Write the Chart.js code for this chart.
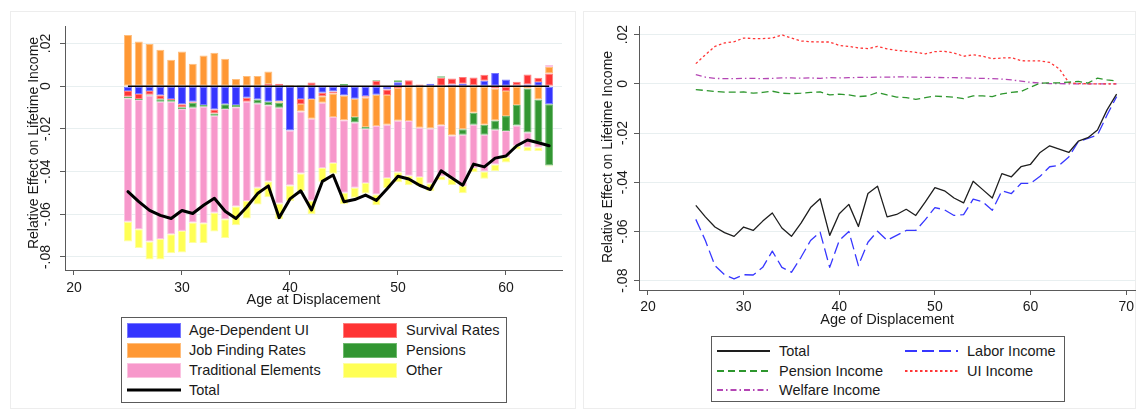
<!DOCTYPE html>
<html>
<head>
<meta charset="utf-8">
<title>Decomposition of lifetime income losses by age at displacement</title>
<script src="https://cdn.jsdelivr.net/npm/chart.js@4.4.1/dist/chart.umd.min.js"></script>
<style>
  html, body { margin: 0; padding: 0; background: #ffffff; }
  body { width: 1138px; height: 415px; position: relative; overflow: hidden;
         font-family: "Liberation Sans", Arial, sans-serif; color: #1a1a1a; }
  .frame { position: absolute; border: 1px solid #ededed; box-sizing: border-box; }
  .wrap { position: absolute; top: 0; }
  .legend { position: absolute; border: 1px solid #5a5a5a; box-sizing: border-box; background: #fff; }
  .key { position: absolute; line-height: 0; }
  .item { position: absolute; font-size: 14.5px; line-height: 18px; white-space: nowrap; color: #1a1a1a; }
</style>
</head>
<body>
<div class="frame" style="left:10px;top:11px;width:566px;height:398px"></div>
<div class="frame" style="left:583px;top:11px;width:553px;height:398px"></div>
<div class="wrap" style="left:0;width:578px;height:415px"><canvas id="decomp" width="578" height="415"></canvas></div>
<div class="wrap" style="left:578px;width:560px;height:415px"><canvas id="sources" width="560" height="415"></canvas></div>
<div id="legendDecomp" class="legend" style="left:121px;top:317px;width:386px;height:86px"></div>
<div id="legendSources" class="legend" style="left:711px;top:336px;width:354px;height:66px"></div>

<script>
// ---- Ages at displacement ----
const barAges = [25, 26, 27, 28, 29, 30, 31, 32, 33, 34, 35, 36, 37, 38, 39, 40, 41, 42, 43, 44,
                 45, 46, 47, 48, 49, 50, 51, 52, 53, 54, 55, 56, 57, 58, 59, 60, 61, 62, 63, 64];
const sourceAges = [25, 26, 27, 28, 29, 30, 31, 32, 33, 34, 35, 36, 37, 38, 39, 40, 41, 42, 43, 44,
                    45, 46, 47, 48, 49, 50, 51, 52, 53, 54, 55, 56, 57, 58, 59, 60, 61, 62, 63, 64,
                    65, 66, 67, 68, 69];

// ---- Decomposition of the total effect (ages 25-64) ----
const ageDependentUI = [-0.0023, -0.0037, -0.0023, -0.0042, -0.0060, -0.0085, -0.0073, -0.0088, -0.0109, -0.0084,
                        -0.0088, -0.0054, -0.0062, -0.0073, -0.0070, -0.0208, -0.0060, -0.0060, -0.0031, -0.0025,
                        -0.0043, -0.0059, -0.0047, -0.0040, -0.0016, 0.0019, 0.0000, 0.0000, 0.0012, 0.0000,
                        0.0008, 0.0012, 0.0005, 0.0025, 0.0062, 0.0031, 0.0005, 0.0008, 0.0020, -0.0084];
const survivalRates = [-0.0026, -0.0023, -0.0017, -0.0019, -0.0005, -0.0014, -0.0005, 0.0000, -0.0019, 0.0000,
                       0.0000, -0.0019, 0.0000, 0.0010, 0.0012, 0.0000, -0.0023, 0.0017, -0.0016, -0.0009,
                       0.0000, 0.0000, -0.0006, 0.0026, -0.0025, -0.0009, 0.0028, 0.0008, 0.0000, 0.0039,
                       0.0028, 0.0031, 0.0036, 0.0029, -0.0011, -0.0022, 0.0016, 0.0047, 0.0019, 0.0059];
const jobFindingRates = [0.0240, 0.0209, 0.0198, 0.0171, 0.0124, 0.0163, 0.0105, 0.0144, 0.0157, 0.0129,
                         0.0034, 0.0048, 0.0048, 0.0059, -0.0008, 0.0006, -0.0036, -0.0093, -0.0031, -0.0110,
                         -0.0116, -0.0085, -0.0138, -0.0147, -0.0140, -0.0153, -0.0163, -0.0195, -0.0198, -0.0183,
                         -0.0231, -0.0202, -0.0124, -0.0181, -0.0150, -0.0118, -0.0088, -0.0011, -0.0062, 0.0031];
const pensions = [-0.0008, -0.0005, -0.0003, -0.0012, -0.0008, -0.0008, -0.0023, -0.0008, -0.0011, -0.0023,
                  -0.0011, 0.0000, -0.0019, -0.0016, -0.0023, 0.0000, 0.0005, 0.0000, 0.0000, 0.0000,
                  0.0010, -0.0026, -0.0008, 0.0003, 0.0000, 0.0009, 0.0000, 0.0000, 0.0000, 0.0008,
                  0.0000, -0.0026, -0.0057, -0.0047, -0.0043, -0.0070, -0.0096, -0.0206, -0.0202, -0.0287];
const traditionalElements = [-0.0578, -0.0605, -0.0684, -0.0643, -0.0620, -0.0571, -0.0538, -0.0546, -0.0454, -0.0516,
                             -0.0465, -0.0465, -0.0395, -0.0357, -0.0448, -0.0257, -0.0290, -0.0384, -0.0305, -0.0216,
                             -0.0340, -0.0306, -0.0254, -0.0320, -0.0249, -0.0241, -0.0256, -0.0230, -0.0258, -0.0239,
                             -0.0203, -0.0240, -0.0202, -0.0171, -0.0163, -0.0123, -0.0095, -0.0068, -0.0023, 0.0009];
const otherElements = [-0.0093, -0.0088, -0.0085, -0.0096, -0.0090, -0.0101, -0.0096, -0.0093, -0.0088, -0.0088,
                       -0.0087, -0.0082, -0.0078, -0.0074, -0.0074, -0.0073, -0.0082, -0.0062, -0.0065, -0.0050,
                       -0.0054, -0.0047, -0.0050, -0.0051, -0.0047, -0.0047, -0.0045, -0.0043, -0.0036, -0.0019,
                       -0.0029, -0.0034, -0.0020, -0.0034, -0.0031, -0.0025, -0.0017, -0.0020, -0.0016, -0.0005];

// ---- Effect by income source (ages 25-69) ----
const totalIncome = [-0.0494, -0.0541, -0.0582, -0.0605, -0.0620, -0.0582, -0.0596, -0.0558, -0.0525, -0.0586,
                     -0.0620, -0.0566, -0.0503, -0.0467, -0.0616, -0.0528, -0.0490, -0.0580, -0.0446, -0.0416,
                     -0.0541, -0.0531, -0.0510, -0.0535, -0.0480, -0.0422, -0.0435, -0.0464, -0.0484, -0.0396,
                     -0.0430, -0.0464, -0.0365, -0.0378, -0.0337, -0.0327, -0.0279, -0.0252, -0.0265, -0.0279,
                     -0.0233, -0.0219, -0.0188, -0.0106, -0.0042];
const laborIncome = [-0.0551, -0.0637, -0.0739, -0.0776, -0.0793, -0.0776, -0.0777, -0.0746, -0.0680, -0.0746,
                     -0.0766, -0.0705, -0.0637, -0.0603, -0.0746, -0.0637, -0.0600, -0.0739, -0.0644, -0.0599,
                     -0.0636, -0.0616, -0.0596, -0.0596, -0.0552, -0.0503, -0.0512, -0.0535, -0.0532, -0.0469,
                     -0.0480, -0.0514, -0.0435, -0.0446, -0.0405, -0.0405, -0.0376, -0.0337, -0.0331, -0.0297,
                     -0.0235, -0.0222, -0.0208, -0.0127, -0.0052];
const pensionIncome = [-0.0024, -0.0027, -0.0031, -0.0034, -0.0034, -0.0033, -0.0038, -0.0035, -0.0030, -0.0038,
                       -0.0040, -0.0038, -0.0035, -0.0033, -0.0045, -0.0042, -0.0045, -0.0052, -0.0049, -0.0035,
                       -0.0045, -0.0054, -0.0056, -0.0063, -0.0056, -0.0050, -0.0052, -0.0054, -0.0060, -0.0049,
                       -0.0049, -0.0052, -0.0041, -0.0035, -0.0031, -0.0014, 0.0003, 0.0004, 0.0004, 0.0007,
                       0.0010, 0.0003, 0.0023, 0.0016, 0.0012];
const uiIncome = [0.0082, 0.0118, 0.0152, 0.0166, 0.0171, 0.0186, 0.0184, 0.0184, 0.0186, 0.0199,
                  0.0186, 0.0174, 0.0171, 0.0170, 0.0170, 0.0156, 0.0152, 0.0146, 0.0143, 0.0152,
                  0.0142, 0.0136, 0.0132, 0.0128, 0.0122, 0.0131, 0.0132, 0.0125, 0.0112, 0.0118,
                  0.0112, 0.0102, 0.0105, 0.0106, 0.0094, 0.0093, 0.0093, 0.0087, 0.0061, 0.0005,
                  0.0001, 0.0000, 0.0000, 0.0000, 0.0000];
const welfareIncome = [0.0037, 0.0027, 0.0022, 0.0021, 0.0021, 0.0022, 0.0022, 0.0021, 0.0022, 0.0024,
                       0.0024, 0.0023, 0.0024, 0.0022, 0.0025, 0.0024, 0.0025, 0.0026, 0.0026, 0.0027,
                       0.0027, 0.0028, 0.0028, 0.0027, 0.0026, 0.0026, 0.0025, 0.0025, 0.0024, 0.0023,
                       0.0022, 0.0021, 0.0019, 0.0016, 0.0011, 0.0006, 0.0003, 0.0001, 0.0001, 0.0000,
                       0.0000, 0.0000, 0.0000, 0.0000, 0.0000];

// ---- Axis ticks ----
const yTickValues = [0.02, 0, -0.02, -0.04, -0.06, -0.08];
const yTickLabels = ['.02', '0', '-.02', '-.04', '-.06', '-.08'];
const xTickValuesDecomp = [20, 30, 40, 50, 60];
const xTickLabelsDecomp = ['20', '30', '40', '50', '60'];
const xTickValuesSources = [20, 30, 40, 50, 60, 70];
const xTickLabelsSources = ['20', '30', '40', '50', '60', '70'];

// ---- Shared styling ----
const FONT = '"Liberation Sans", Arial, sans-serif';
const TEXT = '#1a1a1a';
const AXIS = '#5a5a5a';
const GRID = '#e8eff0';

const points = (ages, values) => ages.map((a, i) => ({ x: a, y: values[i] }));

// Rotated y tick labels, axis title and an optional zero reference line
function axisDecor(id, opts) {
  return {
    id,
    afterDatasetsDraw(chart) {
      if (!opts.zeroLine) return;
      const { ctx, scales: { x, y } } = chart;
      ctx.save();
      ctx.strokeStyle = '#000';
      ctx.lineWidth = 1.5;
      ctx.beginPath();
      ctx.moveTo(x.getPixelForValue(opts.zeroLine[0]), y.getPixelForValue(0));
      ctx.lineTo(x.getPixelForValue(opts.zeroLine[1]), y.getPixelForValue(0));
      ctx.stroke();
      ctx.restore();
    },
    afterDraw(chart) {
      const { ctx, scales: { y } } = chart;
      ctx.save();
      ctx.fillStyle = TEXT;
      ctx.textAlign = 'center';
      ctx.textBaseline = 'middle';
      ctx.font = '14px ' + FONT;
      yTickValues.forEach((v, i) => {
        ctx.save();
        ctx.translate(opts.tickX, y.getPixelForValue(v));
        ctx.rotate(-Math.PI / 2);
        ctx.fillText(yTickLabels[i], 0, 0);
        ctx.restore();
      });
      ctx.font = '14px ' + FONT;
      ctx.translate(opts.titleX, opts.titleY);
      ctx.rotate(-Math.PI / 2);
      ctx.fillText(opts.title, 0, 0);
      ctx.restore();
    }
  };
}

function xScale(min, max, ticks, labels, title, pad) {
  return {
    type: 'linear', min, max, stacked: true, offset: false,
    afterBuildTicks: s => { s.ticks = ticks.map(v => ({ value: v })); },
    afterFit: s => { s.height = 40; },
    ticks: { padding: pad, autoSkip: false, maxRotation: 0, color: TEXT,
             font: { size: 14, family: FONT }, callback: (v, i) => labels[i] },
    grid: { offset: false, drawOnChartArea: false, drawTicks: true, tickLength: 5, tickColor: AXIS, tickWidth: 1 },
    border: { color: AXIS, width: 1 },
    title: { display: true, text: title, color: TEXT, font: { size: 14.5, family: FONT },
             padding: { top: 0, bottom: 1 } }
  };
}

function yScale(min, max, width, stacked) {
  return {
    type: 'linear', min, max, stacked,
    afterBuildTicks: s => { s.ticks = yTickValues.map(v => ({ value: v })); },
    afterFit: s => { s.width = width; },
    ticks: { display: false },
    grid: { color: GRID, lineWidth: 1, drawTicks: true, tickLength: 5, tickColor: AXIS, tickWidth: 1 },
    border: { color: AXIS, width: 1 }
  };
}

// ---- Left: stacked decomposition with total ----
const partSpecs = [
  ['Age-Dependent UI', ageDependentUI, 'rgb(52,52,255)', 'rgb(120,120,255)'],
  ['Survival Rates', survivalRates, 'rgb(255,52,52)', 'rgb(255,125,125)'],
  ['Job Finding Rates', jobFindingRates, 'rgb(255,152,52)', 'rgb(255,190,125)'],
  ['Pensions', pensions, 'rgb(50,150,50)', 'rgb(110,185,110)'],
  ['Traditional Elements', traditionalElements, 'rgb(247,152,203)', 'rgb(251,195,225)'],
  ['Other', otherElements, 'rgb(255,255,85)', 'rgb(255,255,160)']
];

const decompTotal = {
  type: 'line', label: 'Total', stack: 'total',
  data: points(sourceAges, totalIncome).filter(p => p.x <= barAges[barAges.length - 1]),
  borderColor: '#000', backgroundColor: '#000', borderWidth: 3, pointRadius: 0,
  borderJoinStyle: 'round', borderCapStyle: 'round', tension: 0
};
const decompBars = partSpecs.map(([label, values, fill, edge]) => ({
  type: 'bar', label, stack: 'parts', data: points(barAges, values),
  backgroundColor: fill, borderColor: edge, borderWidth: 1, borderSkipped: false,
  barPercentage: 0.74, categoryPercentage: 1
}));

const decompChart = new Chart(document.getElementById('decomp'), {
  data: { datasets: [decompTotal, ...decompBars] },
  options: {
    responsive: false, animation: false, events: [],
    layout: { padding: { left: 0, right: 16, top: 26, bottom: 105 } },
    plugins: { legend: { display: false }, tooltip: { enabled: false } },
    scales: {
      x: xScale(19.17, 65.19, xTickValuesDecomp, xTickLabelsDecomp, 'Age at Displacement', 5),
      y: yScale(-0.0861, 0.0282, 65, true)
    }
  },
  plugins: [axisDecor('decompDecor', {
    tickX: 46.5, titleX: 34, titleY: 143, title: 'Relative Effect on Lifetime Income',
    zeroLine: [barAges[0], barAges[barAges.length - 1]]
  })]
});

// ---- Right: effect by income source ----
const sourceSpecs = [
  ['Total', totalIncome, '#1e1e1e', 1.3, []],
  ['Labor Income', laborIncome, 'rgb(55,55,255)', 1.3, [12, 5]],
  ['Pension Income', pensionIncome, 'rgb(45,150,45)', 1.3, [7, 4]],
  ['UI Income', uiIncome, 'rgb(255,55,55)', 1.3, [2.5, 2.5]],
  ['Welfare Income', welfareIncome, 'rgb(180,70,180)', 1.3, [6, 3, 1.5, 3]]
];
const sourceLines = sourceSpecs.map(([label, values, color, width, dash]) => ({
  type: 'line', label, data: points(sourceAges, values),
  borderColor: color, backgroundColor: color, borderWidth: width, borderDash: dash,
  pointRadius: 0, tension: 0, borderJoinStyle: 'round'
}));

const sourcesChart = new Chart(document.getElementById('sources'), {
  type: 'line',
  data: { datasets: sourceLines },
  options: {
    responsive: false, animation: false, events: [],
    layout: { padding: { left: 0, right: 2, top: 26, bottom: 85 } },
    plugins: { legend: { display: false }, tooltip: { enabled: false } },
    scales: {
      x: xScale(19.06, 70.97, xTickValuesSources, xTickLabelsSources, 'Age of Displacement', 4),
      y: yScale(-0.0838, 0.0235, 61, false)
    }
  },
  plugins: [axisDecor('sourcesDecor', {
    tickX: 45, titleX: 30.5, titleY: 157, title: 'Relative Effect on Lifetime Income'
  })]
});

// ---- Boxed two-column legends built from the datasets ----
function buildLegend(el, datasets, layout) {
  datasets.forEach((ds, i) => {
    const col = i % 2, row = Math.floor(i / 2);
    const cy = layout.rows[row];
    const key = document.createElement('div');
    key.className = 'key';
    key.style.left = layout.keyLeft[col] + 'px';
    const w = layout.keyW;
    if (ds.type === 'bar') {
      const h = layout.keyH;
      key.style.top = (cy - h / 2) + 'px';
      key.innerHTML = `<svg width="${w}" height="${h}"><rect x="0.5" y="0.5" width="${w - 1}" height="${h - 1}" fill="${ds.backgroundColor}" stroke="${ds.borderColor}" stroke-width="1"/></svg>`;
    } else {
      const lw = ds.borderWidth + (layout.lineBoost || 0);
      key.style.top = (cy - 4) + 'px';
      const dash = ds.borderDash && ds.borderDash.length ? `stroke-dasharray="${ds.borderDash.join(' ')}"` : '';
      key.innerHTML = `<svg width="${w}" height="8"><line x1="0" y1="4" x2="${w}" y2="4" stroke="${ds.borderColor}" stroke-width="${lw}" ${dash}/></svg>`;
    }
    el.appendChild(key);
    const txt = document.createElement('div');
    txt.className = 'item';
    txt.textContent = ds.label;
    txt.style.left = layout.textLeft[col] + 'px';
    txt.style.top = (cy - 9) + 'px';
    el.appendChild(txt);
  });
}

const dd = decompChart.data.datasets;
buildLegend(document.getElementById('legendDecomp'), [...dd.slice(1), dd[0]], {
  rows: [12, 32, 52, 72], keyLeft: [5, 221], keyW: 54, keyH: 15, textLeft: [67, 284]
});
buildLegend(document.getElementById('legendSources'), sourcesChart.data.datasets, {
  rows: [14, 34, 53], keyLeft: [5, 193], keyW: 53, textLeft: [67, 255], lineBoost: 0.5
});
</script>
</body>
</html>
